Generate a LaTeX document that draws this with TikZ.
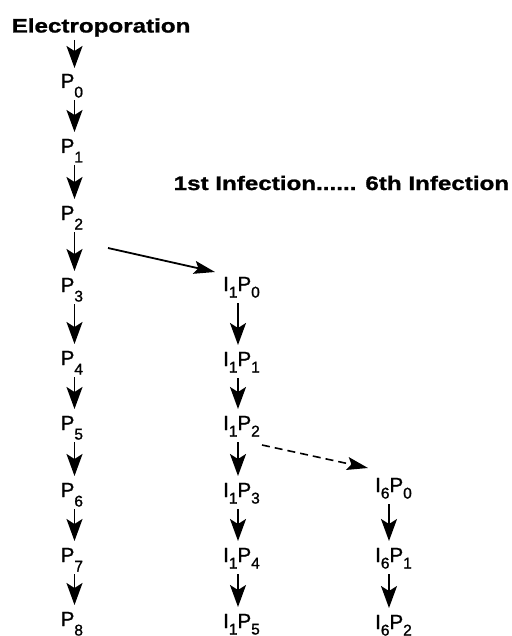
\documentclass[tikz,border=0pt]{standalone}
\usepackage{fontspec}
\setmainfont{Liberation Sans}[FakeBold=1.2]
\newfontfamily\headfont{Liberation Sans}[FakeStretch=1.24,FakeBold=1.2]
\usetikzlibrary{arrows.meta,calc}
% lowered, slightly smaller index digits
\newcommand\lsub[1]{\raisebox{-9.5pt}{\fontsize{15.5}{16}\selectfont #1}}
\newcommand\isub[1]{\raisebox{-6.5pt}{\fontsize{15.5}{16}\selectfont #1}}
\tikzset{
  lab/.style={anchor=base west, inner sep=0pt, font=\fontsize{20.5}{22}\selectfont},
  headline/.style={anchor=base west, inner sep=0pt, font=\headfont\bfseries\fontsize{19.5}{22}\selectfont},
  down/.style={-{Stealth[length=22pt,width=16pt,inset=5pt]}, line width=1.8pt},
  link/.style={-{Stealth[length=21pt,width=13pt,inset=4pt]}, line width=1.8pt},
}
\begin{document}
\begin{tikzpicture}[x=1pt,y=-1pt]
\useasboundingbox (0,0) rectangle (511,636);

% titles
\node[headline] (elec) at (11.5,32.5) {Electroporation};
\node[headline] (inf) at (173.5,190) {1st Infection...... 6th Infection};

% passages after electroporation
\foreach \i/\y in {0/88,1/153,2/220,3/292,4/365,5/430,6/497,7/562,8/626}
  \node[lab] (P\i) at (60.5,\y) {P\lsub{\i}};

% passages after the first infection
\foreach \i/\y in {0/291,1/366,2/430,3/497,4/562,5/628}
  \node[lab] (A\i) at (223,\y) {I\isub{1}P\isub{\i}};

% passages after the sixth infection
\foreach \i/\y in {0/492,1/562,2/629}
  \node[lab] (B\i) at (375,\y) {I\isub{6}P\isub{\i}};

% vertical steps
\draw[down] ($(elec.base west -| P0.base west)+(14,7.5)$) -- ($(P0.base west)+(14,-20)$);
\foreach \i/\j in {0/1,1/2,2/3,3/4,4/5,5/6,6/7,7/8}
  \draw[down] ($(P\i.base west)+(14,12)$) -- ($(P\j.base west)+(14,-21)$);
\foreach \i/\j in {0/1,1/2,2/3,3/4,4/5}
  \draw[down] ($(A\i.base west)+(15,12)$) -- ($(A\j.base west)+(15,-21)$);
\foreach \i/\j in {0/1,1/2}
  \draw[down] ($(B\i.base west)+(14,12)$) -- ($(B\j.base west)+(14,-21)$);

% infections
\draw[link] ($(P2.base west)+(47.5,28)$) -- ($(A0.base west)+(-8,-19)$);
\draw[link, dash pattern=on 8pt off 5pt, line width=1.6pt] ($(A2.base west)+(39,15)$) -- ($(B0.base west)+(-7,-24)$);
\end{tikzpicture}
\end{document}
